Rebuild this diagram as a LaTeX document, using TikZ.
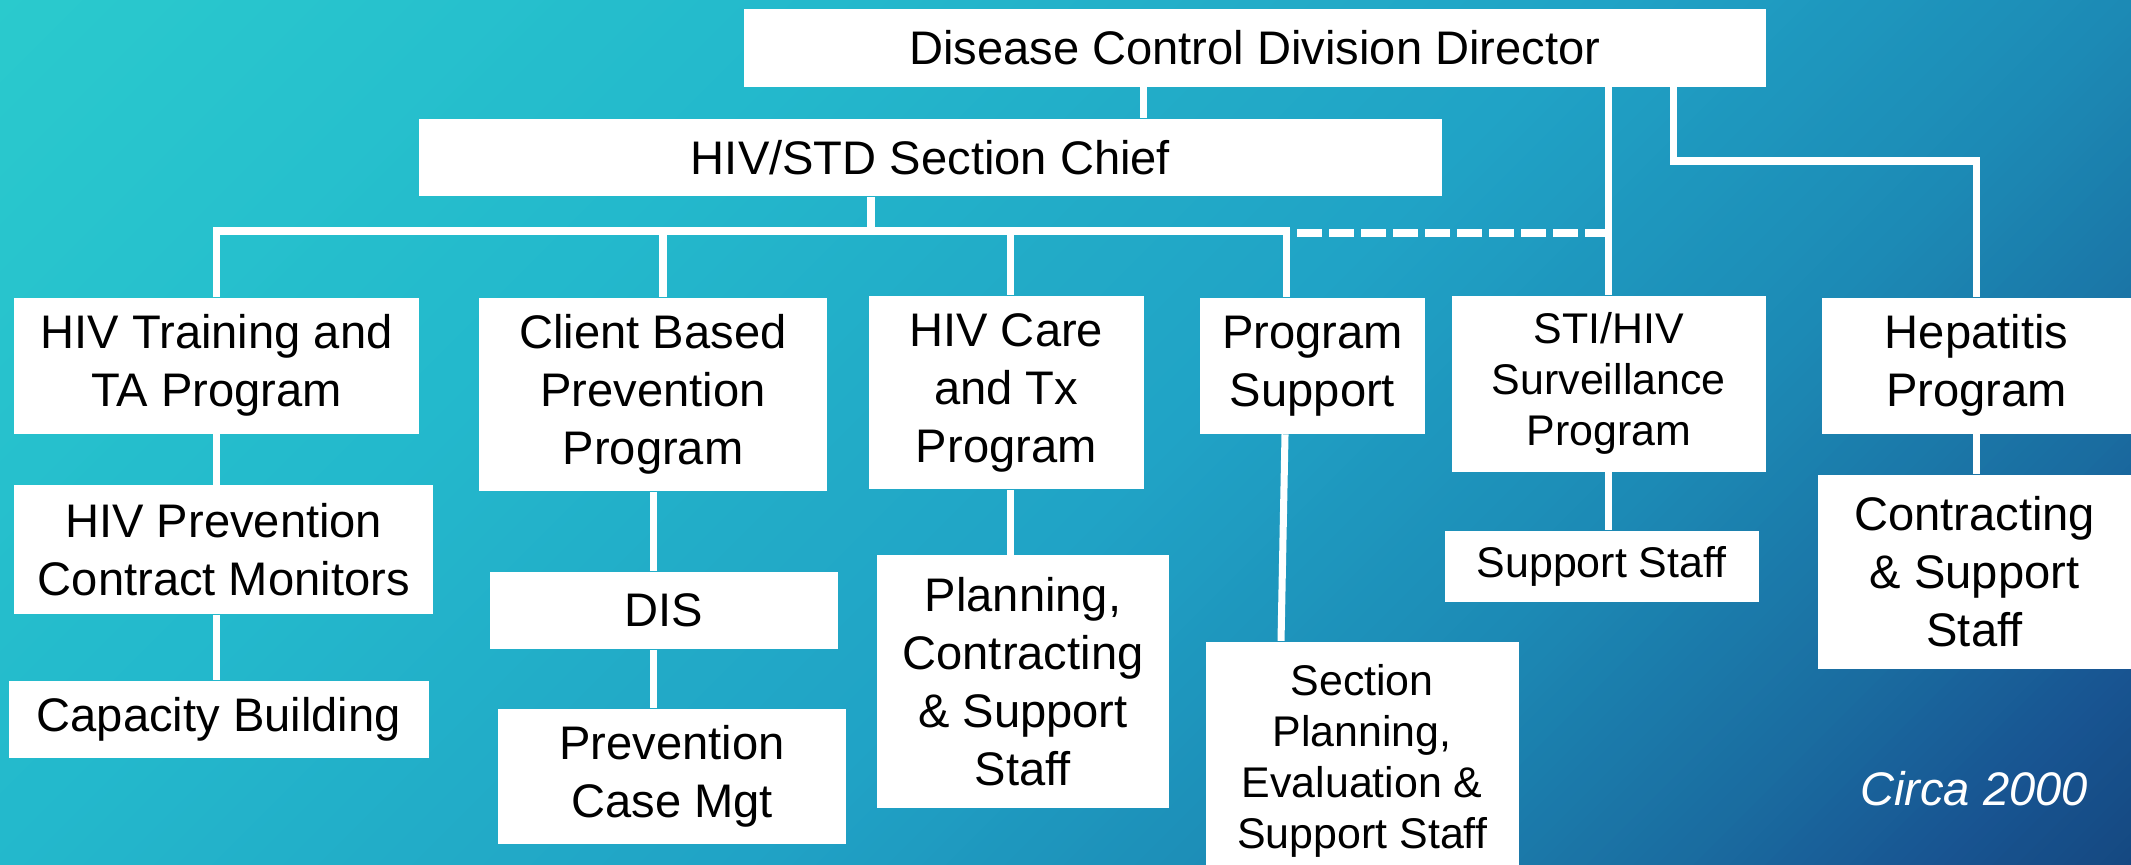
\documentclass[tikz,border=0pt]{standalone}
\usepackage{fontspec}
\setmainfont{Liberation Sans}
\usetikzlibrary{calc}
\definecolor{g0}{HTML}{2ACACD}
\definecolor{g1}{HTML}{23B8CC}
\definecolor{g2}{HTML}{22AAC7}
\definecolor{g3}{HTML}{20A3C6}
\definecolor{g4}{HTML}{1C8AB5}
\definecolor{g5}{HTML}{1A6CA0}
\definecolor{g6}{HTML}{185592}
\definecolor{g7}{HTML}{154880}
\tikzset{
  orgbox/.style={fill=white, inner sep=0pt, align=center, text=black,
    font=\fontsize{13.4pt}{16.5pt}\selectfont},
  smallbox/.style={orgbox, font=\fontsize{12.2pt}{14.5pt}\selectfont},
  conn/.style={draw=white, line width=2pt},
  dashconn/.style={draw=white, line width=2.3pt, dash pattern=on 7pt off 2.1pt},
}
\newcommand\placebox[7]{\node[#1, minimum width={(#5-#3)*0.01cm}, minimum height={(#6-#4)*0.01cm}] (#2) at ({(#3+#5)/2},{(#4+#6)/2}) {#7};}
\begin{document}
\begin{tikzpicture}[x=0.01cm, y=-0.01cm]
\useasboundingbox (0,0) rectangle (2131,865);
% background: diagonal gradient drawn as thin stripes
\begin{scope}
\clip (0,0) rectangle (2131,865);
\foreach \ka/\kb/\ca/\cb in {0/866/g0/g1, 866/1325/g1/g2, 1325/1610/g2/g3, 1610/2131/g3/g4, 2131/2546/g4/g5, 2546/2786/g5/g6, 2786/3000/g6/g7} {
  \pgfmathtruncatemacro\nn{ceil((\kb-\ka)/12)}
  \pgfmathsetmacro\st{(\kb-\ka)/\nn}
  \foreach \i in {1,...,\nn} {
    \pgfmathsetmacro\kx{\ka+(\i-1)*\st}
    \pgfmathsetmacro\ky{\ka+\i*\st+1.5}
    \pgfmathtruncatemacro\tt{100*(\i-0.5)/\nn}
    \fill[\cb!\tt!\ca] (\kx,0) -- (\ky,0) -- ({\ky-865},865) -- ({\kx-865},865) -- cycle;
  }
}
\end{scope}
% top level
\placebox{orgbox}{dis}{743.7}{8.8}{1766}{86.6}{Disease Control Division Director}
\placebox{orgbox}{chief}{419}{119.2}{1442}{196.4}{HIV/STD Section Chief}
% second level
\placebox{orgbox}{hivta}{14.3}{298}{419}{433.6}{HIV Training and\\TA Program}
\placebox{orgbox}{client}{478.8}{298}{827.3}{491}{Client Based\\Prevention\\Program}
\placebox{orgbox}{hivcare}{868.7}{296}{1143.8}{489.3}{HIV Care\\and Tx\\Program}
\placebox{orgbox}{progsupp}{1200}{298}{1425}{433.6}{Program\\Support}
\placebox{smallbox}{sti}{1451.5}{296}{1766}{471.7}{STI/HIV\\Surveillance\\Program}
\placebox{orgbox}{hep}{1822}{298}{2131}{433.6}{Hepatitis\\Program}
% third level
\placebox{orgbox}{hivpcm}{14.3}{485.5}{433.3}{614}{HIV Prevention\\Contract Monitors}
\placebox{orgbox}{capb}{8.8}{680.8}{428.6}{758.5}{Capacity Building}
\placebox{orgbox}{disbox}{489.7}{572}{838}{649.3}{DIS}
\placebox{orgbox}{pcm}{497.9}{708.9}{846.3}{844}{Prevention\\Case Mgt}
\placebox{orgbox}{plan}{876.9}{555.5}{1169}{807.6}{Planning,\\Contracting\\\& Support\\Staff}
\placebox{smallbox}{sect}{1205.6}{641.6}{1518.7}{880}{Section\\Planning,\\Evaluation \&\\Support Staff}
\placebox{smallbox}{stisupp}{1444.7}{531}{1758.5}{602.4}{Support Staff}
\placebox{orgbox}{contr}{1818}{475}{2131}{668.6}{Contracting\\\& Support\\Staff}
% bus coordinates
\coordinate (busR) at (1286,231);
% connectors
\draw[conn] (1143,0 |- dis.south) -- (1143,0 |- chief.north);
\draw[conn] (871,0 |- chief.south) -- (871,231);
\draw[conn] (hivta.north) |- (busR) -- (progsupp.north -| busR);
\draw[conn] (663,231) -- (663,0 |- client.north);
\draw[conn] (1010,231) -- (1010,0 |- hivcare.north);
\draw[dashconn] ($(busR)+(11,2)$) -- (sti.north |- 0,233);
\draw[conn] (dis.south -| sti.north) -- (sti.north);
\draw[conn] (1673.6,0 |- dis.south) |- (hep.north |- 0,161) -- (hep.north);
\draw[conn] (hivta.south) -- (hivta.south |- hivpcm.north);
\draw[conn] (hivta.south |- hivpcm.south) -- (hivta.south |- capb.north);
\draw[conn] (client.south) -- (client.south |- disbox.north);
\draw[conn] (client.south |- disbox.south) -- (client.south |- pcm.north);
\draw[conn] (1010,0 |- hivcare.south) -- (1010,0 |- plan.north);
\draw[conn] (1285,0 |- progsupp.south) -- (1281,0 |- sect.north);
\draw[conn] (sti.south) -- (sti.south |- stisupp.north);
\draw[conn] (hep.south) -- (hep.south |- contr.north);
% note
\node[text=white, font=\fontsize{13.4pt}{16pt}\selectfont\itshape] (circa) at (1974,789) {Circa 2000};
\end{tikzpicture}
\end{document}
